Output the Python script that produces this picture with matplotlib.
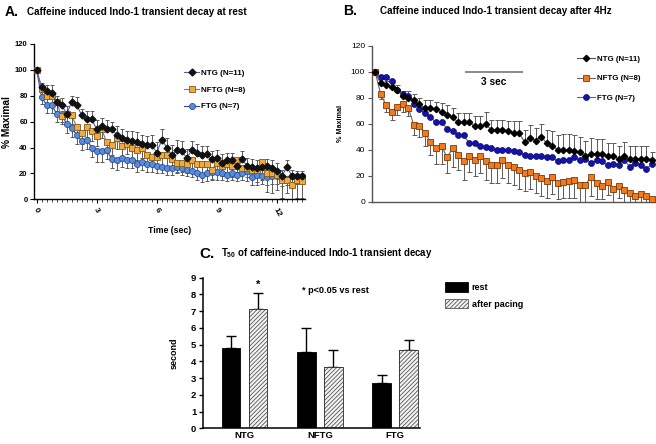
import numpy as np
import matplotlib
matplotlib.use("Agg")
import matplotlib.pyplot as plt
from matplotlib.patches import Patch

plt.rcParams['font.family'] = ['Liberation Sans', 'DejaVu Sans']
plt.rcParams['mathtext.fontset'] = 'custom'
plt.rcParams['mathtext.rm'] = 'Liberation Sans'
plt.rcParams['mathtext.bf'] = 'Liberation Sans:bold'
plt.rcParams['hatch.linewidth'] = 0.6

# ---------------- data ----------------
step_a = 0.25
ntg_a = [100, 87, 84, 82, 75, 73, 66, 75, 73, 65,
         62, 62, 54, 57, 54, 54, 50, 47, 46, 45,
         44, 43, 42, 42, 36, 46, 40, 34, 38, 37,
         32, 38, 36, 34, 35, 31, 32, 28, 30, 30,
         26, 31, 26, 25, 24, 25, 26, 24, 22, 18,
         25, 18, 18, 18]
nftg_a = [100, 85, 80, 80, 75, 64, 66, 65, 56, 51,
          56, 53, 49, 54, 44, 42, 47, 41, 43, 40,
          38, 40, 34, 33, 33, 34, 34, 31, 28, 28,
          27, 30, 27, 27, 27, 23, 28, 26, 27, 26,
          30, 24, 24, 23, 23, 29, 20, 20, 19, 15,
          15, 11, 15, 14]
ftg_a = [100, 79, 73, 73, 66, 66, 58, 55, 50, 45,
         46, 40, 37, 37, 38, 31, 30, 32, 30, 30,
         27, 29, 27, 27, 26, 25, 24, 24, 25, 24,
         23, 22, 20, 19, 20, 21, 21, 20, 19, 20,
         19, 20, 22, 17, 19, 18, 17, 18, 18, 16,
         16, 18, 17, 18]
ntg_a_err = [0, 3, 4, 6, 5, 5, 6, 5, 6, 5,
             6, 6, 7, 6, 7, 6, 7, 7, 7, 8,
             8, 7, 7, 8, 8, 8, 7, 8, 8, 8,
             7, 7, 7, 7, 6, 6, 6, 7, 6, 6,
             6, 6, 6, 6, 6, 5, 5, 6, 6, 5,
             5, 5, 4, 4]
nftg_a_err = [0, 6, 7, 7, 7, 6, 7, 7, 7, 8,
              8, 8, 8, 7, 8, 8, 8, 8, 8, 8,
              8, 8, 7, 7, 8, 8, 8, 7, 7, 7,
              7, 8, 8, 7, 7, 7, 8, 8, 8, 9,
              9, 9, 10, 12, 12, 14, 14, 15, 12, 14,
              10, 11, 14, 13]
ftg_a_err = [0, 5, 6, 6, 6, 6, 7, 7, 7, 7,
             7, 7, 8, 8, 7, 7, 7, 7, 6, 6,
             6, 6, 6, 6, 6, 5, 5, 5, 5, 5,
             5, 5, 5, 6, 6, 6, 6, 5, 5, 5,
             5, 5, 5, 6, 6, 6, 6, 6, 6, 6,
             5, 5, 5, 5]

step_b = 0.25
ntg_b = [100, 91, 90, 88, 86, 81, 80, 78, 75, 72,
         72, 71, 69, 67, 65, 61, 61, 61, 58, 58,
         60, 55, 55, 55, 54, 53, 53, 46, 49, 47,
         50, 45, 43, 40, 40, 40, 39, 38, 35, 37,
         37, 37, 35, 35, 33, 35, 33, 33, 33, 33,
         32]
ftg_b = [100, 96, 96, 93, 86, 83, 81, 75, 71, 68,
         65, 61, 61, 56, 54, 51, 51, 45, 45, 43,
         42, 41, 40, 40, 40, 39, 38, 36, 35, 35,
         35, 34, 34, 31, 32, 32, 34, 32, 33, 30,
         32, 31, 28, 29, 28, 32, 27, 30, 28, 25,
         29]
nftg_b = [100, 83, 74, 69, 73, 75, 72, 59, 58, 53,
          46, 41, 43, 34, 41, 36, 31, 35, 32, 35,
          31, 28, 28, 32, 28, 27, 24, 22, 23, 20,
          18, 16, 19, 14, 15, 16, 17, 13, 13, 19,
          14, 12, 15, 10, 12, 9, 7, 4, 6, 4,
          2]
ntg_b_err = [0, 3, 3, 3, 4, 4, 5, 5, 5, 6,
             6, 6, 7, 7, 7, 7, 7, 7, 8, 8,
             9, 8, 8, 8, 8, 9, 9, 9, 10, 10,
             10, 10, 11, 11, 12, 12, 12, 12, 12, 12,
             11, 11, 10, 10, 10, 11, 10, 10, 10, 10,
             6]
nftg_b_err = [0, 4, 5, 6, 6, 6, 6, 8, 8, 10,
              10, 12, 14, 12, 14, 12, 14, 12, 12, 13,
              14, 14, 14, 14, 14, 14, 14, 14, 13, 13,
              14, 13, 13, 12, 12, 13, 14, 13, 14, 15,
              12, 10, 10, 10, 9, 9, 8, 6, 6, 5,
              4]

labels = ['NTG (N=11)', 'NFTG (N=8)', 'FTG (N=7)']

groups = ['NTG', 'NFTG', 'FTG']
rest = [4.8, 4.55, 2.7]
rest_err = [0.7, 1.45, 0.5]
paced = [7.1, 3.65, 4.7]
paced_err = [1.0, 1.05, 0.6]

# ---------------- figure ----------------
W, H = 656, 444
fig = plt.figure(figsize=(W / 100, H / 100), dpi=100)


def fx(px):
    return px / W


def fy(py):
    return 1 - py / H


def axes_px(l, t, r, b):
    return fig.add_axes([fx(l), fy(b), (r - l) / W, (b - t) / H])


# ======== Panel A ========
axA = axes_px(34, 44, 305, 199.3)
ta = np.arange(len(ntg_a)) * step_a
ecol = '#5a5a5a'
z0 = np.zeros(len(ta))
axA.errorbar(ta, ntg_a, yerr=[z0, ntg_a_err], fmt='none', ecolor=ecol,
             elinewidth=0.7, capsize=1.6, capthick=0.7, zorder=2)
axA.errorbar(ta, nftg_a, yerr=[nftg_a_err, z0], fmt='none', ecolor=ecol,
             elinewidth=0.7, capsize=1.6, capthick=0.7, zorder=2)
axA.errorbar(ta, ftg_a, yerr=[ftg_a_err, z0], fmt='none', ecolor=ecol,
             elinewidth=0.7, capsize=1.6, capthick=0.7, zorder=2)
lA1, = axA.plot(ta, ntg_a, '-', color='#5c5cae', lw=0.8, marker='D', ms=3.5,
                mfc='#111111', mec='#111111', zorder=5)
lA2, = axA.plot(ta, nftg_a, '-', color='#6a78b4', lw=0.8, marker='s', ms=4.8,
                mfc='#f2aa3c', mec='#7a5a20', mew=0.6, zorder=4)
lA3, = axA.plot(ta, ftg_a, '-', color='#3c4466', lw=0.8, marker='o', ms=4.4,
                mfc='#5a8ad8', mec='#2a4f9a', mew=0.6, zorder=3)
axA.set_xlim(-0.13, 13.4)
axA.set_ylim(0, 120)
axA.set_yticks(np.arange(0, 121, 20))
axA.set_xticks([0, 3, 6, 9, 12])
axA.set_xticks(np.arange(0, 13.5, 0.25), minor=True)
for s in ['top', 'right']:
    axA.spines[s].set_visible(False)
for s in ['left', 'bottom']:
    axA.spines[s].set_linewidth(1.0)
axA.tick_params(axis='both', which='major', length=3, width=0.8, labelsize=5.5, pad=1.5)
axA.tick_params(axis='x', which='minor', length=1.8, width=0.5)
axA.tick_params(axis='x', which='major', labelsize=6.0, pad=2.5)
for lab in axA.get_yticklabels():
    lab.set_fontweight('bold')
for lab in axA.get_xticklabels():
    lab.set_fontweight('bold')
    lab.set_rotation(-60)
    lab.set_ha('center')
    lab.set_va('top')
axA.set_ylabel('% Maximal', fontsize=7.3, fontweight='bold', labelpad=2)
axA.set_xlabel('Time (sec)', fontsize=6.3, fontweight='bold', labelpad=5)
axA.legend([lA1, lA2, lA3], labels, loc='upper left',
           bbox_to_anchor=(fx(184), fy(69)), bbox_transform=fig.transFigure,
           frameon=False, prop={'size': 5.8, 'weight': 'bold'},
           handlelength=1.9, handletextpad=0.2, labelspacing=1.15,
           borderpad=0, borderaxespad=0)

fig.text(fx(5), fy(11.5), 'A.', fontsize=10, fontweight='bold', va='center', ha='left')
fig.text(fx(27), fy(11.7), 'Caffeine induced Indo-1 transient decay at rest',
         fontsize=7.1, fontweight='bold', va='center', ha='left')

# ======== Panel B ========
axB = axes_px(372, 45.7, 655, 201.7)
tb = np.arange(len(ntg_b)) * step_b
zb = np.zeros(len(tb))
axB.errorbar(tb, ntg_b, yerr=[zb, ntg_b_err], fmt='none', ecolor=ecol,
             elinewidth=0.7, capsize=1.8, capthick=0.7, zorder=2)
axB.errorbar(tb, nftg_b, yerr=[nftg_b_err, zb], fmt='none', ecolor=ecol,
             elinewidth=0.7, capsize=1.8, capthick=0.7, zorder=2)
lB1, = axB.plot(tb, ntg_b, '-', color='#555555', lw=0.8, marker='D', ms=3.2,
                mfc='#000000', mec='#000000', zorder=5)
lB2, = axB.plot(tb, nftg_b, '-', color='#666666', lw=0.8, marker='s', ms=4.5,
                mfc='#f07a20', mec='#7a3a08', mew=0.6, zorder=4)
lB3, = axB.plot(tb, ftg_b, '-', color='#666666', lw=0.8, marker='o', ms=4.3,
                mfc='#1414a8', mec='#0a0a70', mew=0.5, zorder=3)
axB.set_xlim(-0.14, 12.64)
axB.set_ylim(0, 120)
axB.set_yticks(np.arange(0, 121, 20))
axB.set_xticks([])
for s in ['top', 'right']:
    axB.spines[s].set_visible(False)
axB.spines['left'].set_linewidth(1.0)
axB.spines['left'].set_color('#555555')
axB.spines['bottom'].set_linewidth(1.0)
axB.spines['bottom'].set_color('#555555')
axB.tick_params(axis='y', length=3, width=0.8, labelsize=6.0, pad=2, color='#555555')
axB.set_ylabel('% Maximal', fontsize=5.2, fontweight='bold', labelpad=5)
# 3 sec scale bar
axB.plot([4.05, 6.67], [100, 100], color='#777777', lw=1.2, solid_capstyle='butt')
axB.text(5.36, 92, '3 sec', fontsize=7.3, fontweight='bold', ha='center', va='center')
axB.legend([lB1, lB2, lB3], labels, loc='upper left',
           bbox_to_anchor=(fx(577), fy(55)), bbox_transform=fig.transFigure,
           frameon=False, prop={'size': 5.7, 'weight': 'bold'},
           handlelength=2.3, handletextpad=0.2, labelspacing=1.55,
           borderpad=0, borderaxespad=0)

fig.text(fx(343), fy(11), 'B.', fontsize=10, fontweight='bold', va='center', ha='left')
fig.text(fx(380), fy(10.5), 'Caffeine induced Indo-1 transient decay after 4Hz',
         fontsize=7.1, fontweight='bold', va='center', ha='left')

# ======== Panel C ========
axC = axes_px(203.3, 277.7, 420, 428.3)
xc = np.arange(len(groups))
bw = 0.25
off = 0.18
axC.bar(xc - off, rest, bw, color='black', edgecolor='black', lw=0.6, zorder=2)
axC.bar(xc + off, paced, bw, color='#f4f4f4', edgecolor='#555555', lw=0,
        hatch='////////', zorder=2)
axC.bar(xc + off, paced, bw, fill=False, edgecolor='#222222', lw=0.6, zorder=3)
zc = np.zeros(len(xc))
axC.errorbar(xc - off, rest, yerr=[zc, rest_err], fmt='none', ecolor='black',
             elinewidth=1.0, capsize=3.6, capthick=1.0, zorder=1)
axC.errorbar(xc + off, paced, yerr=[zc, paced_err], fmt='none', ecolor='black',
             elinewidth=1.0, capsize=3.6, capthick=1.0, zorder=1)
axC.set_xlim(-0.547, 2.33)
axC.set_ylim(0, 9)
axC.set_yticks(np.arange(0, 10, 1))
axC.set_xticks(xc)
axC.set_xticklabels(groups)
for s in ['top', 'right']:
    axC.spines[s].set_visible(False)
for s in ['left', 'bottom']:
    axC.spines[s].set_linewidth(1.1)
axC.tick_params(axis='y', length=3, width=1.0, labelsize=6.8, pad=2)
axC.tick_params(axis='x', length=0, labelsize=6.8, pad=2)
for lab in axC.get_yticklabels() + axC.get_xticklabels():
    lab.set_fontweight('bold')
axC.set_ylabel('second', fontsize=6.5, fontweight='bold', labelpad=9)
axC.text(xc[0] + off, paced[0] + paced_err[0] + 0.15, '*', fontsize=8,
         fontweight='bold', ha='center', va='bottom')
fig.text(fx(302), fy(290.7), '* p<0.05 vs rest', fontsize=6.6, fontweight='bold',
         va='center', ha='left')
handles = [Patch(facecolor='black', edgecolor='black', lw=0.6),
           Patch(facecolor='#f4f4f4', edgecolor='#555555', hatch='////////', lw=0.6)]
axC.legend(handles, ['rest', 'after pacing'], loc='upper left',
           bbox_to_anchor=(fx(445), fy(282.5)), bbox_transform=fig.transFigure,
           frameon=False, prop={'size': 6.5, 'weight': 'bold'},
           handlelength=2.55, handleheight=1.2, handletextpad=0.4,
           labelspacing=0.75, borderpad=0, borderaxespad=0)

fig.text(fx(199), fy(253.5), 'C.', fontsize=11, fontweight='bold', va='center', ha='left')
fig.text(fx(221), fy(253), r'T$_{\mathbf{50}}$ of caffeine-induced Indo-1 transient decay',
         fontsize=6.9, fontweight='bold', va='center', ha='left')

fig.savefig('out.png', dpi=100)
